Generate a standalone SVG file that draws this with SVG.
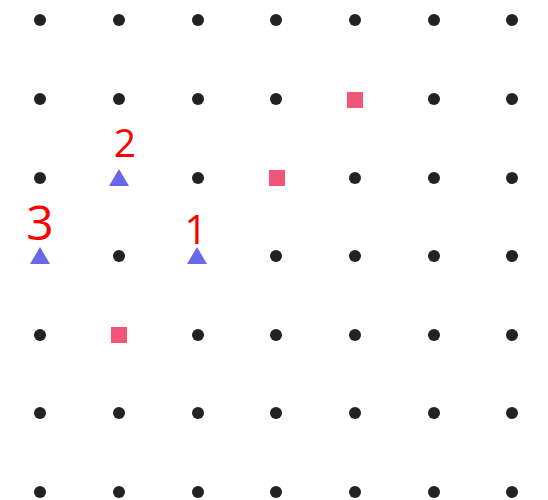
<svg xmlns="http://www.w3.org/2000/svg" width="548" height="500" viewBox="0 0 548 500">
<style>
.dot{fill:#222222}
.sq{fill:#f0557a}
.tri{fill:#6868e8}
.lbl{fill:#ff0000;font-family:"Open Sans","Noto Sans",sans-serif;text-anchor:middle}
</style>
<defs>
<circle id="d" r="6" class="dot"/>
<rect id="s" x="-8" y="-8" width="16" height="16" class="sq"/>
<path id="t" d="M0,-9 L10,8 L-10,8 Z" class="tri"/>
</defs>
<rect width="548" height="500" fill="#ffffff"/>
<g id="grid">
<use href="#d" x="40" y="20"/><use href="#d" x="119" y="20"/><use href="#d" x="198" y="20"/><use href="#d" x="276" y="20"/><use href="#d" x="355" y="20"/><use href="#d" x="434" y="20"/><use href="#d" x="512" y="20"/>
<use href="#d" x="40" y="99"/><use href="#d" x="119" y="99"/><use href="#d" x="198" y="99"/><use href="#d" x="276" y="99"/><use href="#d" x="434" y="99"/><use href="#d" x="512" y="99"/>
<use href="#d" x="40" y="178"/><use href="#d" x="198" y="178"/><use href="#d" x="355" y="178"/><use href="#d" x="434" y="178"/><use href="#d" x="512" y="178"/>
<use href="#d" x="119" y="256"/><use href="#d" x="276" y="256"/><use href="#d" x="355" y="256"/><use href="#d" x="434" y="256"/><use href="#d" x="512" y="256"/>
<use href="#d" x="40" y="335"/><use href="#d" x="198" y="335"/><use href="#d" x="276" y="335"/><use href="#d" x="355" y="335"/><use href="#d" x="434" y="335"/><use href="#d" x="512" y="335"/>
<use href="#d" x="40" y="413"/><use href="#d" x="119" y="413"/><use href="#d" x="198" y="413"/><use href="#d" x="276" y="413"/><use href="#d" x="355" y="413"/><use href="#d" x="434" y="413"/><use href="#d" x="512" y="413"/>
<use href="#d" x="40" y="492"/><use href="#d" x="119" y="492"/><use href="#d" x="198" y="492"/><use href="#d" x="276" y="492"/><use href="#d" x="355" y="492"/><use href="#d" x="434" y="492"/><use href="#d" x="512" y="492"/>
</g>
<g id="squares">
<use href="#s" x="355" y="100"/>
<use href="#s" x="277" y="178"/>
<use href="#s" x="119" y="335"/>
</g>
<g id="p1"><use href="#t" x="197" y="256"/><text class="lbl" x="196" y="244" font-size="40">1</text></g>
<g id="p2"><use href="#t" x="119" y="178"/><text class="lbl" x="125" y="157" font-size="39">2</text></g>
<g id="p3"><use href="#t" x="40" y="256"/><text class="lbl" x="40" y="240" font-size="48">3</text></g>
</svg>
